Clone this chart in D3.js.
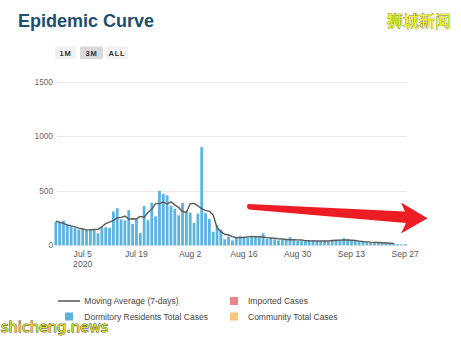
<!DOCTYPE html>
<html>
<head>
<meta charset="utf-8">
<script src="https://cdn.jsdelivr.net/npm/d3@7"></script>
<style>
  html, body { margin: 0; padding: 0; background: #fff; }
  svg { display: block; font-family: Arial, "Liberation Sans", sans-serif; }
</style>
</head>
<body>
<svg id="chart" width="461" height="339"></svg>
<script>
// Daily dormitory-resident cases, one value per day starting at firstDay
const firstDay = "2020-06-28";
const dormitoryCases = [
  215, 205, 225,                                   // Jun 28–30
  190, 172, 158, 145, 150, 140, 145, 140, 110, 165, // Jul 1–10
  165, 160, 310, 340, 238, 228, 322, 195, 245, 112, // Jul 11–20
  360, 230, 390, 265, 500, 470, 458, 360, 335, 275, // Jul 21–30
  388,                                              // Jul 31
  310, 300, 205, 290, 900, 295, 240, 125, 185, 145, // Aug 1–10
  55, 80, 45, 75, 80, 78, 72, 80, 75, 78,           // Aug 11–20
  110, 60, 72, 55, 45, 50, 60, 75, 48, 42,          // Aug 21–30
  38,                                               // Aug 31
  40, 45, 48, 40, 35, 38, 32, 40, 45, 50,           // Sep 1–10
  65, 55, 48, 45, 35, 30, 28, 30, 25, 28,           // Sep 11–20
  25, 22, 20, 18, 10, 8, 10                         // Sep 21–27
];
// The three days before firstDay, needed for the centred 7-day average
const priorCases = [250, 230, 240];

const yTicks = [0, 500, 1000, 1500];
const xTickDates = ["2020-07-05", "2020-07-19", "2020-08-02", "2020-08-16", "2020-08-30", "2020-09-13", "2020-09-27"];
const xTickLabels = ["Jul 5", "Jul 19", "Aug 2", "Aug 16", "Aug 30", "Sep 13", "Sep 27"];
const rangeButtons = ["1M", "3M", "ALL"];
const selectedRange = "3M";
const legendNames = ["Moving Average (7-days)", "Imported Cases", "Dormitory Residents Total Cases", "Community Total Cases"];
const legendColors = ["#555555", "#ea8386", "#5bb4e0", "#f7c67a"];

const DAY = 864e5;
const start = new Date(firstDay + "T00:00:00Z");
const cases = dormitoryCases.map((v, i) => ({ date: new Date(+start + i * DAY), value: v }));
const last = cases[cases.length - 1].date;

// centred 7-day moving average
const padded = priorCases.concat(dormitoryCases);
const movingAvg = [];
for (let i = 0; i + 6 < padded.length; i++) {
  movingAvg.push({ date: cases[i].date, value: d3.mean(padded.slice(i, i + 7)) });
}

const svg = d3.select("#chart");

const x = d3.scaleUtc().domain([start, last]).range([55.8, 405.2]);
const y = d3.scaleLinear().domain([0, 1500]).range([245.3, 81.7]);

// title
svg.append("text")
  .attr("x", 18).attr("y", 27)
  .attr("font-size", 18).attr("font-weight", "bold")
  .attr("fill", "#1c4e70")
  .text("Epidemic Curve");

// range selector buttons
const btnX = [55, 80, 106];
const btnW = [21, 23, 22];
const btns = svg.append("g").selectAll("g").data(rangeButtons).join("g")
  .attr("transform", (d, i) => `translate(${btnX[i]},46.5)`);
btns.append("rect")
  .attr("width", (d, i) => btnW[i]).attr("height", 12.5).attr("rx", 1.5)
  .attr("fill", d => d === selectedRange ? "#d9d9d9" : "#f2f2f2");
btns.append("text")
  .attr("x", (d, i) => btnW[i] / 2).attr("y", 9)
  .attr("text-anchor", "middle")
  .attr("font-size", 7.5).attr("font-weight", "bold")
  .attr("letter-spacing", 0.8)
  .attr("fill", "#333")
  .text(d => d);

// horizontal grid + y labels
svg.append("g").selectAll("line").data(yTicks).join("line")
  .attr("x1", 57).attr("x2", 407)
  .attr("y1", d => Math.round(y(d)) + 0.5).attr("y2", d => Math.round(y(d)) + 0.5)
  .attr("stroke", "#e8e8e8").attr("stroke-width", 1);
svg.append("g").selectAll("text").data(yTicks).join("text")
  .attr("x", 53).attr("y", d => y(d) + 3)
  .attr("text-anchor", "end")
  .attr("font-size", 8.3).attr("fill", "#666")
  .text(d => d);

// bars
const bw = 2.8;
svg.append("g").selectAll("rect").data(cases).join("rect")
  .attr("x", d => x(d.date) - bw / 2)
  .attr("width", bw)
  .attr("y", d => y(d.value))
  .attr("height", d => y(0) - y(d.value))
  .attr("fill", "#5bb4e0");

// moving average
svg.append("path")
  .datum(movingAvg)
  .attr("fill", "none")
  .attr("stroke", "#5a5a5a")
  .attr("stroke-width", 1.4)
  .attr("stroke-linejoin", "round")
  .attr("d", d3.line().x(d => x(d.date)).y(d => y(d.value)));

// x labels
const xt = svg.append("g").selectAll("text").data(xTickDates).join("text")
  .attr("x", d => x(new Date(d + "T00:00:00Z")))
  .attr("y", 256.5)
  .attr("text-anchor", "middle")
  .attr("font-size", 8.6).attr("fill", "#555")
  .text((d, i) => xTickLabels[i]);
svg.append("text")
  .attr("x", x(new Date(xTickDates[0] + "T00:00:00Z"))).attr("y", 267.3)
  .attr("text-anchor", "middle")
  .attr("font-size", 8.6).attr("fill", "#555")
  .text("2020");

// annotation arrow
svg.append("path")
  .attr("d", "M248,204 L405,211.5 L401,202.5 L427.5,218.3 L401,233.5 L406,223 L249,209.5 Q245.5,207 248,204 Z")
  .attr("fill", "#ee1c24");

// legend
const legX = [58, 230, 58, 230];
const legY = [301, 301, 316.5, 316.5];
const leg = svg.append("g").selectAll("g").data(legendNames).join("g")
  .attr("transform", (d, i) => `translate(${legX[i]},${legY[i]})`);
leg.each(function (d, i) {
  const g = d3.select(this);
  if (i === 0) {
    g.append("line").attr("x1", 0).attr("x2", 22).attr("y1", 0).attr("y2", 0)
      .attr("stroke", legendColors[i]).attr("stroke-width", 1.5);
  } else {
    g.append("rect").attr("x", i === 2 ? 7 : 0).attr("y", -4).attr("width", 8).attr("height", 8)
      .attr("fill", legendColors[i]);
  }
  g.append("text").attr("x", i % 2 === 0 ? 26.3 : 18).attr("y", 3)
    .attr("font-size", 8.5).attr("fill", "#444")
    .text(d);
});

// publisher marks
svg.append("text")
  .attr("x", 387).attr("y", 26.5)
  .attr("font-family", "'Noto Sans CJK SC', sans-serif")
  .attr("font-size", 16)
  .attr("fill", "#ffff1e")
  .attr("stroke", "#6b6b2a").attr("stroke-width", 0.7)
  .attr("paint-order", "stroke")
  .text("狮城新闻");
svg.append("text")
  .attr("x", 1).attr("y", 332)
  .attr("font-family", "'DejaVu Sans', sans-serif")
  .attr("font-size", 14.5)
  .attr("fill", "#e4e81a")
  .attr("stroke", "#333").attr("stroke-width", 0.9)
  .attr("paint-order", "stroke")
  .text("shicheng.news");
</script>
</body>
</html>
